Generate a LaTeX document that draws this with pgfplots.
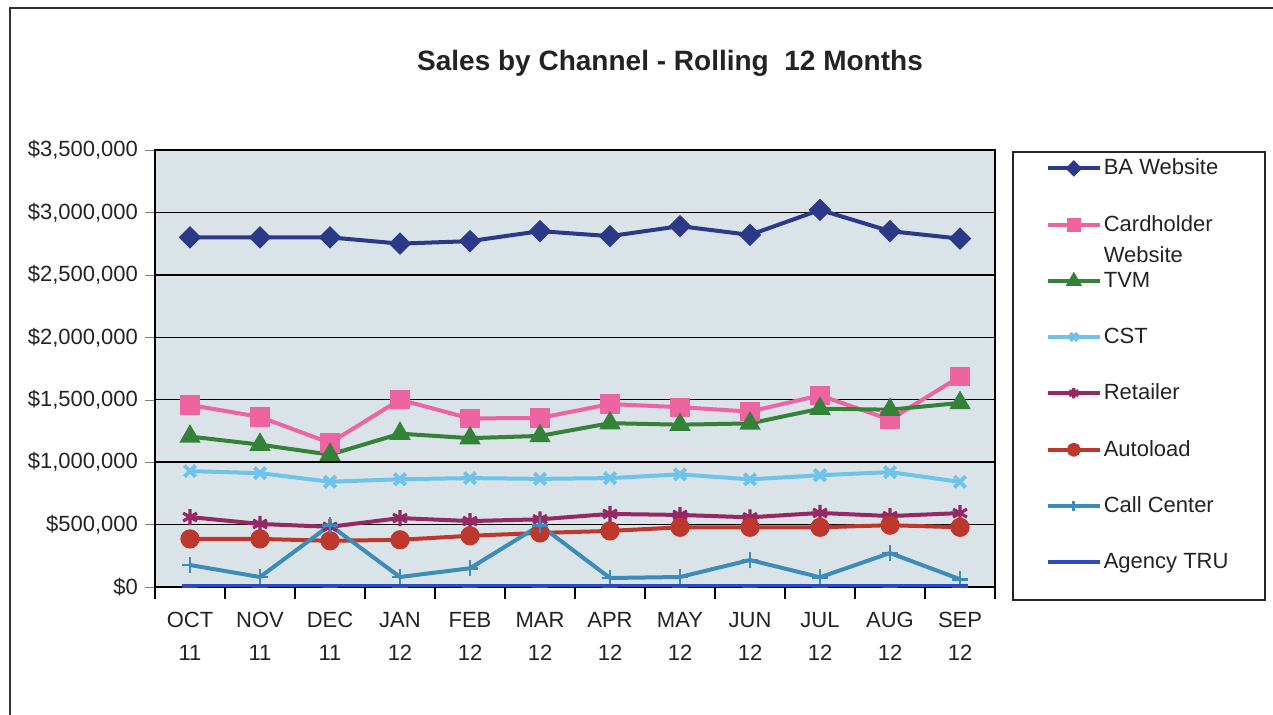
\documentclass[border=0pt]{standalone}
\usepackage{pgfplots}
\pgfplotsset{compat=1.18}
\usepackage{fontspec}
\setmainfont{Liberation Sans}
\definecolor{cBA}{RGB}{44,56,136}
\definecolor{cCard}{RGB}{238,100,160}
\definecolor{cTVM}{RGB}{52,130,56}
\definecolor{cCST}{RGB}{110,195,235}
\definecolor{cRet}{RGB}{150,40,100}
\definecolor{cAuto}{RGB}{190,55,45}
\definecolor{cCall}{RGB}{60,140,185}
\definecolor{cTRU}{RGB}{45,75,190}
\definecolor{bgc}{RGB}{218,228,232}
\definecolor{txt}{RGB}{35,35,35}
\begin{document}
\begin{tikzpicture}
\begin{scope}[x=0.5pt,y=0.5pt]
\useasboundingbox (0,0) rectangle (1273,715);
\draw[line width=1pt, black!80] (10,-10) -- (10,707) -- (1290,707);
\node[font=\bfseries\fontsize{14}{16}\selectfont, text=txt] at (670,652) {Sales by Channel - Rolling\ \ 12 Months};
\draw[line width=0.8pt, black!85] (1013,115) rectangle (1265,563);
\end{scope}
\begin{axis}[
  at={(77.5pt,64pt)}, anchor=south west,
  scale only axis, width=420pt, height=218.5pt,
  xmin=-0.5, xmax=11.5, ymin=0, ymax=3500000,
  axis background/.style={fill=bgc},
  axis line style={black, line width=0.8pt},
  xtick={0,...,11},
  xticklabels={{OCT\\11},{NOV\\11},{DEC\\11},{JAN\\12},{FEB\\12},{MAR\\12},{APR\\12},{MAY\\12},{JUN\\12},{JUL\\12},{AUG\\12},{SEP\\12}},
  xticklabel style={align=center, font=\fontsize{11}{16.5}\selectfont, text=txt, yshift=-4pt},
  major x tick style={draw=none},
  minor xtick={-0.5,0.5,...,11.5},
  minor x tick style={black, line width=0.8pt},
  minor tick length=6pt,
  ytick={0,500000,...,3500000},
  yticklabels={{\$0},{\$500,000},{\$1,000,000},{\$1,500,000},{\$2,000,000},{\$2,500,000},{\$3,000,000},{\$3,500,000}},
  yticklabel style={font=\fontsize{11}{13}\selectfont, text=txt},
  scaled y ticks=false,
  tick align=outside, xtick pos=bottom, ytick pos=left,
  major tick length=5pt,
  ymajorgrids, major grid style={black, line width=0.7pt},
  legend style={draw=none, fill=none, at={(1.060,0.985)}, anchor=north west,
    font=\fontsize{11}{13}\selectfont, text=txt, row sep=16.8pt, inner sep=0pt, nodes={inner sep=1pt}},
  legend cell align=left,
  legend image code/.code={\draw[mark repeat=2,mark phase=2,#1,every mark/.append style={scale=0.65}] plot coordinates {(0pt,0pt) (13pt,0pt) (26pt,0pt)};},
  every axis plot/.append style={line width=2pt},
]
\addplot[cBA, mark=square*, mark size=3pt, mark options={rotate=45}] coordinates {
(0,2800000)(1,2800000)(2,2800000)(3,2750000)(4,2770000)(5,2850000)(6,2810000)(7,2890000)(8,2820000)(9,3020000)(10,2850000)(11,2790000)};
\addlegendentry{BA Website}
\addplot[cCard, mark=square*, mark size=3.8pt] coordinates {
(0,1458000)(1,1362000)(2,1154000)(3,1500000)(4,1350000)(5,1354000)(6,1465000)(7,1440000)(8,1405000)(9,1535000)(10,1340000)(11,1685000)};
\addlegendentry{\smash{\makebox[0pt][l]{\raisebox{-15.5pt}{Website}}}Cardholder}
\addplot[cTVM, mark=triangle*, mark size=4.2pt] coordinates {
(0,1205000)(1,1140000)(2,1060000)(3,1228000)(4,1192000)(5,1210000)(6,1312000)(7,1300000)(8,1310000)(9,1428000)(10,1420000)(11,1474000)};
\addlegendentry{TVM}
\addplot[cCST, mark=x, mark size=4pt, mark options={line width=2pt}] coordinates {
(0,928000)(1,912000)(2,843000)(3,863000)(4,872000)(5,866000)(6,872000)(7,902000)(8,862000)(9,895000)(10,920000)(11,842000)};
\addlegendentry{CST}
\addplot[cRet, mark=asterisk, mark size=4pt, mark options={line width=1.6pt}] coordinates {
(0,560000)(1,505000)(2,482000)(3,552000)(4,528000)(5,542000)(6,585000)(7,577000)(8,558000)(9,593000)(10,568000)(11,592000)};
\addlegendentry{Retailer}
\addplot[cAuto, mark=*, mark size=3.8pt] coordinates {
(0,385000)(1,385000)(2,370000)(3,378000)(4,410000)(5,433000)(6,449000)(7,478000)(8,478000)(9,478000)(10,495000)(11,478000)};
\addlegendentry{Autoload}
\addplot[cCall, mark=+, mark size=4pt, mark options={line width=1.4pt}] coordinates {
(0,176000)(1,80000)(2,495000)(3,80000)(4,150000)(5,495000)(6,72000)(7,80000)(8,216000)(9,78000)(10,272000)(11,62000)};
\addlegendentry{Call Center}
\addplot[cTRU, mark=-, mark size=4pt, mark options={line width=2pt}] coordinates {
(0,8000)(1,8000)(2,8000)(3,8000)(4,8000)(5,8000)(6,8000)(7,8000)(8,8000)(9,8000)(10,8000)(11,8000)};
\addlegendentry{Agency TRU}
\end{axis}
\end{tikzpicture}
\end{document}
